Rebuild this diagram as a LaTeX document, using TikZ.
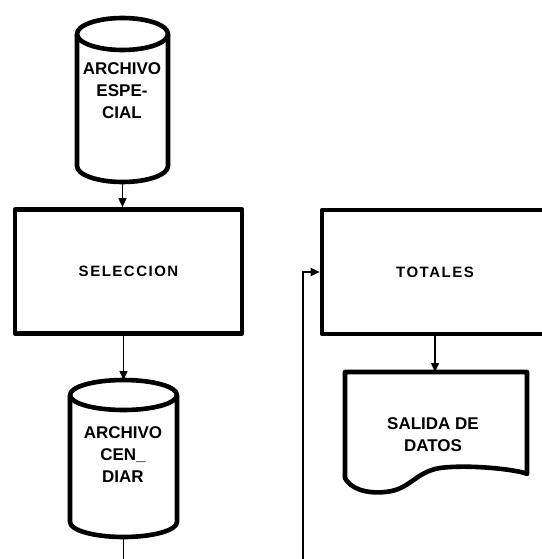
\documentclass[tikz,border=0pt]{standalone}
\usepackage{fontspec}
\setmainfont{Liberation Sans}
\usetikzlibrary{arrows.meta}
\begin{document}
\begin{tikzpicture}[x=1pt,y=-1pt,
  outl/.style={line width=4.6pt,line join=round},
  conn/.style={line width=1.5pt,-{Triangle[length=9pt,width=8pt]}},
  plain/.style={line width=1.5pt},
  lbl/.style={font=\bfseries\fontsize{15}{20}\selectfont\addfontfeatures{LetterSpace=10},align=center,inner sep=0pt},
  clbl/.style={font=\bfseries\fontsize{17}{22}\selectfont,align=center,inner sep=0pt},
  procbox/.style={draw,outl,minimum width=#1,minimum height=124pt,inner sep=0pt},
  ghost/.style={inner sep=0pt,outer sep=0pt}]
\useasboundingbox (0,0) rectangle (541,559);

% top cylinder
\node[ghost,minimum width=91pt,minimum height=164pt] (esp) at (122.5,100) {};
\draw[outl] (122.5,34) ellipse [x radius=45.5,y radius=16];
\draw[outl] (77,34) -- (77,166) arc[start angle=180,end angle=0,x radius=45.5,y radius=16] -- (168,34);
\node[clbl] (esptext) at (122,91) {ARCHIVO\\ESPE-\\CIAL};

% selection box
\node[procbox=227pt,lbl] (sel) at (128.5,271.5) {SELECCION};

% bottom cylinder
\node[ghost,minimum width=107pt,minimum height=157pt] (cen) at (123.5,458.5) {};
\draw[outl] (123.5,395) ellipse [x radius=53.5,y radius=15];
\draw[outl] (70,395) -- (70,522) arc[start angle=180,end angle=0,x radius=53.5,y radius=15] -- (177,395);
\node[clbl] (centext) at (123,455) {ARCHIVO\\CEN\_\\DIAR};

% totals box
\node[procbox=226pt,lbl] (tot) at (435,272) {TOTALES};

% document
\node[ghost,minimum width=182pt,minimum height=120pt] (sal) at (436,432) {};
\draw[outl] (345,478) -- (345,372) -- (527,372) -- (527,474)
  .. controls (520,470) and (470,464) .. (440,468)
  .. controls (415,472) and (410,490) .. (385,492)
  .. controls (365,494) and (350,488) .. (345,478) -- cycle;
\node[clbl] (saltext) at (433,435) {SALIDA DE\\DATOS};

% connectors
\coordinate (cenout) at (123.5,559);
\coordinate (totin) at (303,559);
\draw[conn] (esp.south) -- (esp.south |- sel.north);
\draw[conn] (sel.south -| cen.north) -- (cen.north);
\draw[plain] (cen.south) -- (cenout);
\draw[conn] (totin) |- (tot.west);
\draw[conn] (tot.south) -- (tot.south |- sal.north);
\end{tikzpicture}
\end{document}
